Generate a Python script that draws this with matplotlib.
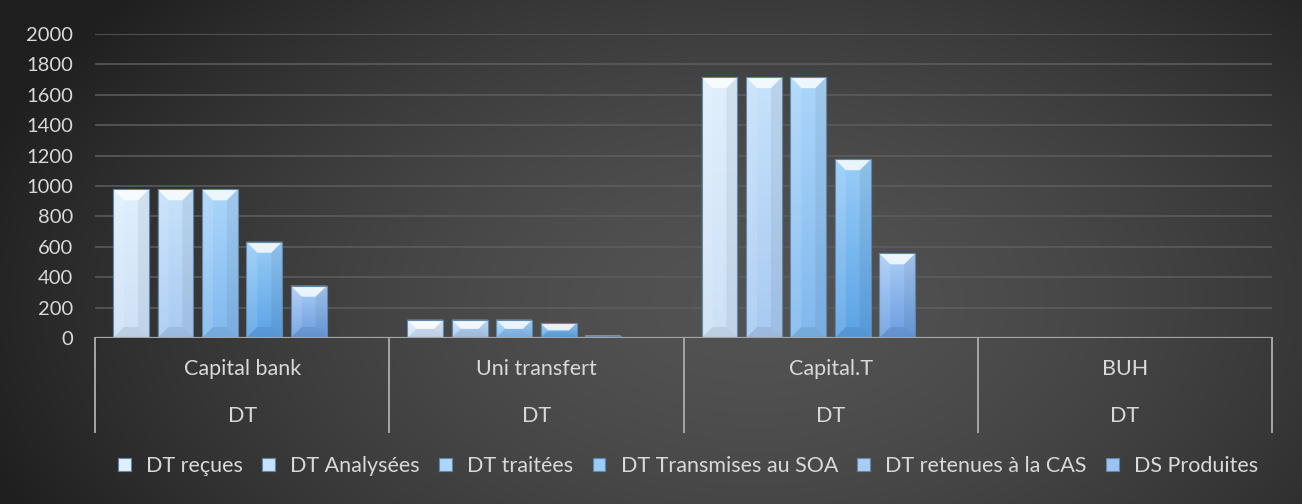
import numpy as np
import matplotlib
matplotlib.use("Agg")
import matplotlib.pyplot as plt
from matplotlib.patches import Polygon, Patch
from matplotlib.colors import LinearSegmentedColormap
from matplotlib.transforms import blended_transform_factory

# ---------------- data ----------------
categories = ["Capital bank", "Uni transfert", "Capital.T", "BUH"]
sub_label = "DT"
series_names = ["DT reçues", "DT Analysées", "DT traitées",
                "DT Transmises au SOA", "DT retenues à la CAS", "DS Produites"]
dt_recues = [978, 120, 1716, 3]
dt_analysees = [978, 120, 1716, 3]
dt_traitees = [978, 120, 1716, 3]
dt_transmises = [633, 99, 1176, 2]
dt_retenues = [344, 16, 557, 1]
ds_produites = [0, 0, 0, 0]
y_ticks = list(range(0, 2001, 200))

series_values = [dt_recues, dt_analysees, dt_traitees, dt_transmises, dt_retenues, ds_produites]

# ---------------- style ----------------
top_colors = ["#e0effd", "#c7e2fb", "#acd6fb", "#98cdf8", "#aacdf6", "#9cc2f2"]
bot_colors = ["#cde1f7", "#a9caf1", "#80b9ee", "#5ba3e6", "#6a9de0", "#5b8fd6"]
edge_color = "#5f86ad"
text_color = "#d9d9d9"
FONT = "Lato"

W, H, DPI = 1302, 504, 100
fig = plt.figure(figsize=(W / DPI, H / DPI), dpi=DPI)

# background radial gradient
bg = fig.add_axes([0, 0, 1, 1], zorder=-10)
yy, xx = np.mgrid[0:H, 0:W]
cx, cy = 0.58 * W, 0.6 * H
r = np.sqrt(((xx - cx) / (0.62 * W)) ** 2 + ((yy - cy) / (0.95 * H)) ** 2)
r = np.clip(r, 0, 1)
lum = 0.325 - 0.2 * r ** 1.6
img = np.dstack([lum, lum, lum])
bg.imshow(img, aspect="auto", extent=[0, 1, 0, 1], origin="upper")
bg.set_axis_off()

ax_left, ax_right = 95 / W, 1272 / W
ax_bottom, ax_top = 1 - 338 / H, 1 - 34 / H
ax = fig.add_axes([ax_left, ax_bottom, ax_right - ax_left, ax_top - ax_bottom])
ax.set_facecolor("none")
ax.set_xlim(-0.5, len(categories) - 0.5)
ax.set_ylim(0, 2000)
ax.set_yticks(y_ticks)
ax.set_xticks([])
for s in ax.spines.values():
    s.set_visible(False)
ax.tick_params(axis="y", length=0, pad=16, labelcolor=text_color, labelsize=14.5)
for lab in ax.get_yticklabels():
    lab.set_fontfamily(FONT)
ax.yaxis.grid(True, color="#5e5e5e", lw=1.1)
ax.set_axisbelow(True)

# pixel -> data scales
ax_w_px = (ax_right - ax_left) * W
ax_h_px = (ax_top - ax_bottom) * H
sx = (len(categories)) / ax_w_px
sy = 2000 / ax_h_px

n = len(series_values)
step = 0.151
width = 0.122
x = np.arange(len(categories))

for i, vals in enumerate(series_values):
    off = (i - (n - 1) / 2) * step
    cmap = LinearSegmentedColormap.from_list("g%d" % i, [bot_colors[i], top_colors[i]])
    bars = ax.bar(x + off, vals, width=width, color=top_colors[i],
                  edgecolor=edge_color, linewidth=0.8, zorder=3)
    for b in bars:
        bx, by, bw, bh = b.get_x(), b.get_y(), b.get_width(), b.get_height()
        if bh <= 0:
            continue
        grad = np.linspace(1, 0, 64).reshape(-1, 1)
        im = ax.imshow(grad, cmap=cmap, aspect="auto",
                       extent=[bx, bx + bw, by, by + bh], zorder=3.1, vmin=0, vmax=1)
        im.set_clip_path(b)
        # bevels
        d_px = min(11, bh / sy / 2)
        dx, dy = d_px * sx, d_px * sy
        top = Polygon([[bx, by + bh], [bx + bw, by + bh], [bx + bw - dx, by + bh - dy],
                       [bx + dx, by + bh - dy]], closed=True, facecolor="white",
                      alpha=0.8, edgecolor="none", zorder=3.2)
        ax.add_patch(top)
        left = Polygon([[bx, by], [bx, by + bh], [bx + dx, by + bh - dy], [bx + dx, by + dy]],
                       closed=True, facecolor="white", alpha=0.12, edgecolor="none", zorder=3.2)
        ax.add_patch(left)
        right = Polygon([[bx + bw, by], [bx + bw, by + bh], [bx + bw - dx, by + bh - dy],
                         [bx + bw - dx, by + dy]], closed=True, facecolor="black",
                        alpha=0.06, edgecolor="none", zorder=3.2)
        ax.add_patch(right)
        bot = Polygon([[bx, by], [bx + bw, by], [bx + bw - dx, by + dy], [bx + dx, by + dy]],
                      closed=True, facecolor="black", alpha=0.08, edgecolor="none", zorder=3.2)
        ax.add_patch(bot)
        b.set_zorder(3.3)
        b.set_facecolor("none")

# category table
line_col = "#a6a6a6"
ax.axhline(0, color=line_col, lw=1.6, zorder=4)
tr = blended_transform_factory(ax.transData, ax.transAxes)
table_bottom = -(432 - 338) / ax_h_px
for k in range(len(categories) + 1):
    ax.plot([k - 0.5, k - 0.5], [0, table_bottom], color=line_col, lw=1.4,
            transform=tr, clip_on=False, zorder=4)
for k, c in enumerate(categories):
    ax.text(k, -(369 - 338) / ax_h_px, c, transform=tr, ha="center", va="center",
            color=text_color, fontsize=15.5, fontfamily=FONT)
    ax.text(k, -(416 - 338) / ax_h_px, sub_label, transform=tr, ha="center", va="center",
            color=text_color, fontsize=15.5, fontfamily=FONT)

# legend
handles = [Patch(facecolor=top_colors[i], edgecolor=edge_color, linewidth=0.8, label=series_names[i])
           for i in range(n)]
leg = fig.legend(handles=handles, loc="center", bbox_to_anchor=(688 / W, 1 - 466 / H),
                 ncol=n, frameon=False, handlelength=0.6, handleheight=0.6,
                 handletextpad=0.7, columnspacing=0.9,
                 prop={"family": FONT, "size": 15.5})
for t in leg.get_texts():
    t.set_color(text_color)

fig.savefig("out.png", dpi=DPI)
